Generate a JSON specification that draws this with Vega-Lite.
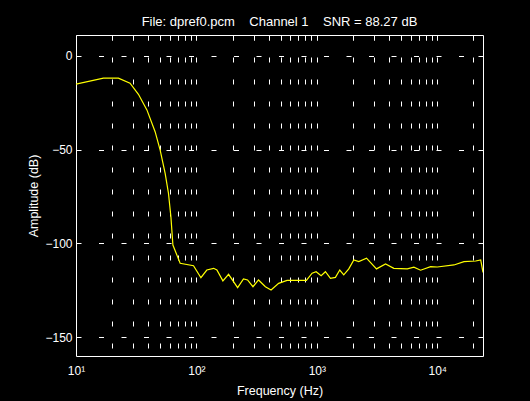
{
  "$schema": "https://vega.github.io/schema/vega-lite/v6.json",
  "width": 407,
  "height": 321,
  "autosize": {"type": "none"},
  "padding": {"left": 76, "top": 35, "right": 47, "bottom": 45},
  "background": "black",
  "title": {
    "text": "File: dpref0.pcm\u00a0\u00a0\u00a0\u00a0Channel 1\u00a0\u00a0\u00a0\u00a0SNR = 88.27 dB",
    "color": "white",
    "font": "Liberation Sans",
    "fontSize": 13,
    "fontWeight": "normal",
    "offset": 6,
    "anchor": "middle"
  },
  "config": {
    "view": {"stroke": "white", "strokeWidth": 1},
    "axis": {
      "labelFont": "Liberation Sans",
      "labelFontSize": 12,
      "labelColor": "white",
      "titleFont": "Liberation Sans",
      "titleFontSize": 12.5,
      "titleFontWeight": "normal",
      "titleColor": "white",
      "domainColor": "white",
      "tickColor": "white",
      "gridColor": "white",
      "gridOpacity": 1
    }
  },
  "data": {
    "values": [
      {"freq": 10, "db": -15.2},
      {"freq": 16.9, "db": -12.0},
      {"freq": 22.5, "db": -12.0},
      {"freq": 28.1, "db": -14.7},
      {"freq": 33.0, "db": -20.6},
      {"freq": 38.8, "db": -28.9},
      {"freq": 45.4, "db": -40.5},
      {"freq": 50.0, "db": -50.3},
      {"freq": 55.0, "db": -62.7},
      {"freq": 58.6, "db": -73.3},
      {"freq": 61.4, "db": -85.8},
      {"freq": 63.8, "db": -100.9},
      {"freq": 73.3, "db": -110.6},
      {"freq": 94.6, "db": -111.9},
      {"freq": 109, "db": -118.3},
      {"freq": 122, "db": -114.2},
      {"freq": 139, "db": -113.3},
      {"freq": 148, "db": -114.2},
      {"freq": 166, "db": -120.0},
      {"freq": 185, "db": -116.5},
      {"freq": 220, "db": -123.6},
      {"freq": 246, "db": -119.0},
      {"freq": 266, "db": -119.5},
      {"freq": 295, "db": -123.1},
      {"freq": 328, "db": -119.5},
      {"freq": 374, "db": -123.1},
      {"freq": 417, "db": -124.8},
      {"freq": 482, "db": -121.3},
      {"freq": 566, "db": -119.7},
      {"freq": 819, "db": -119.7},
      {"freq": 914, "db": -115.9},
      {"freq": 987, "db": -115.1},
      {"freq": 1086, "db": -117.2},
      {"freq": 1179, "db": -115.1},
      {"freq": 1298, "db": -118.6},
      {"freq": 1428, "db": -118.1},
      {"freq": 1551, "db": -114.2},
      {"freq": 1674, "db": -116.8},
      {"freq": 1843, "db": -113.6},
      {"freq": 2028, "db": -108.8},
      {"freq": 2232, "db": -109.7},
      {"freq": 2586, "db": -107.9},
      {"freq": 3131, "db": -113.6},
      {"freq": 3722, "db": -111.0},
      {"freq": 4363, "db": -113.3},
      {"freq": 5640, "db": -113.6},
      {"freq": 6401, "db": -112.7},
      {"freq": 7277, "db": -114.3},
      {"freq": 8814, "db": -112.4},
      {"freq": 10020, "db": -112.6},
      {"freq": 13770, "db": -111.5},
      {"freq": 16680, "db": -109.7},
      {"freq": 20870, "db": -109.4},
      {"freq": 22970, "db": -108.8},
      {"freq": 24000, "db": -115.5}
    ]
  },
  "layer": [
    {
      "mark": {"type": "line", "color": "#ffff00", "strokeWidth": 1.2, "clip": true},
      "encoding": {
        "x": {
          "field": "freq",
          "type": "quantitative",
          "scale": {"type": "log", "domain": [10, 24000], "nice": false},
          "axis": {
            "orient": "bottom",
            "title": "Frequency (Hz)",
            "values": [10, 20, 30, 40, 50, 60, 70, 80, 90, 100, 200, 300, 400, 500, 600, 700, 800, 900, 1000, 2000, 3000, 4000, 5000, 6000, 7000, 8000, 9000, 10000, 20000],
            "labelExpr": "datum.value == 10 ? '10¹' : datum.value == 100 ? '10²' : datum.value == 1000 ? '10³' : datum.value == 10000 ? '10⁴' : ''",
            "labelOverlap": false,
            "labelFlush": false,
            "labelPadding": 9,
            "ticks": false,
            "grid": true,
            "gridDash": [5, 17],
            "domain": false,
            "titlePadding": 8
          }
        },
        "y": {
          "field": "db",
          "type": "quantitative",
          "scale": {"domain": [-160, 11], "nice": false, "zero": false},
          "axis": {
            "orient": "left",
            "title": "Amplitude (dB)",
            "values": [0, -50, -100, -150],
            "labelOverlap": false,
            "labelFlush": false,
            "labelPadding": 4,
            "ticks": false,
            "grid": true,
            "gridDash": [5, 17.5],
            "domain": false,
            "titlePadding": 4
          }
        }
      }
    },
    {
      "mark": {"type": "line", "opacity": 0},
      "encoding": {
        "x": {
          "field": "freq",
          "type": "quantitative",
          "scale": {"type": "log", "domain": [10, 24000], "nice": false},
          "axis": {
            "orient": "top",
            "title": null,
            "values": [20, 30, 40, 50, 60, 70, 80, 90, 100, 200, 300, 400, 500, 600, 700, 800, 900, 1000, 2000, 3000, 4000, 5000, 6000, 7000, 8000, 9000, 10000, 20000],
            "labels": false,
            "ticks": true,
            "tickSize": -5,
            "grid": false,
            "domain": false
          }
        },
        "y": {
          "field": "db",
          "type": "quantitative",
          "scale": {"domain": [-160, 11], "nice": false, "zero": false},
          "axis": {
            "orient": "right",
            "title": null,
            "values": [0, -50, -100, -150],
            "labels": false,
            "ticks": true,
            "tickSize": -5,
            "grid": false,
            "domain": false
          }
        }
      }
    }
  ],
  "resolve": {"axis": {"x": "independent", "y": "independent"}}
}
